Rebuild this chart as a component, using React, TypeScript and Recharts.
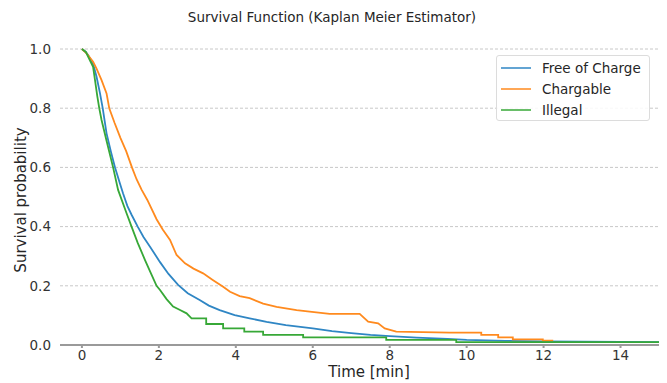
import React from "react";
import { LineChart, Line, XAxis, YAxis, CartesianGrid } from "recharts";

const FONT = "DejaVu Sans, Verdana, sans-serif";

// survival curves (time in min, survival probability)
const freeT = [0, 0.1, 0.16, 0.29, 0.38, 0.47, 0.54, 0.64, 0.75, 0.86, 0.99, 1.07, 1.18, 1.29, 1.45, 1.6, 1.77, 2.03, 2.25, 2.5, 2.75, 3.06, 3.3, 3.58, 3.97, 4.36, 4.8, 5.3, 6.0, 6.5, 7.0, 7.5, 8.0, 8.7, 9.5, 10.0, 11.0, 12.0, 13.0, 15.0];
const freeS = [1.0, 0.99, 0.98, 0.95, 0.906, 0.85, 0.8, 0.715, 0.655, 0.6, 0.545, 0.512, 0.47, 0.44, 0.4, 0.365, 0.332, 0.28, 0.24, 0.203, 0.175, 0.152, 0.133, 0.118, 0.101, 0.09, 0.078, 0.067, 0.056, 0.047, 0.04, 0.034, 0.03, 0.025, 0.021, 0.017, 0.014, 0.012, 0.011, 0.01];

const chargT = [0, 0.12, 0.29, 0.38, 0.51, 0.64, 0.71, 0.85, 1.0, 1.15, 1.3, 1.42, 1.55, 1.7, 1.94, 2.1, 2.29, 2.46, 2.68, 2.9, 3.15, 3.4, 3.67, 3.85, 4.1, 4.36, 4.71, 5.06, 5.58, 5.92, 6.44, 7.22, 7.44, 7.7, 7.87, 8.17, 9.56, 10.38, 10.38, 10.82, 10.82, 11.2, 11.2, 11.98, 11.98, 12.25];
const chargS = [1.0, 0.985, 0.957, 0.934, 0.895, 0.85, 0.8, 0.75, 0.7, 0.655, 0.6, 0.56, 0.525, 0.49, 0.425, 0.39, 0.355, 0.304, 0.276, 0.258, 0.242, 0.22, 0.197, 0.18, 0.165, 0.158, 0.14, 0.129, 0.118, 0.113, 0.105, 0.105, 0.079, 0.073, 0.056, 0.045, 0.042, 0.042, 0.034, 0.034, 0.026, 0.026, 0.019, 0.019, 0.015, 0.015];

const illegalT = [0, 0.1, 0.29, 0.34, 0.4, 0.45, 0.51, 0.64, 0.81, 0.94, 1.16, 1.29, 1.45, 1.64, 1.8, 1.94, 2.03, 2.2, 2.37, 2.55, 2.72, 2.85, 3.23, 3.23, 3.67, 3.67, 4.22, 4.22, 4.71, 4.71, 5.75, 5.75, 7.91, 7.91, 9.73, 9.73, 15.0];
const illegalS = [1.0, 0.99, 0.94, 0.895, 0.84, 0.8, 0.76, 0.69, 0.6, 0.524, 0.445, 0.4, 0.345, 0.287, 0.24, 0.2, 0.186, 0.155, 0.13, 0.118, 0.107, 0.09, 0.09, 0.071, 0.071, 0.056, 0.056, 0.045, 0.045, 0.034, 0.034, 0.026, 0.026, 0.017, 0.017, 0.01, 0.01];

const xTicks = [0, 2, 4, 6, 8, 10, 12, 14];
const yTicks = [0, 0.2, 0.4, 0.6, 0.8, 1.0];

const series = [
  { name: "Free of Charge", color: "#2f86c4", t: freeT, s: freeS },
  { name: "Chargable", color: "#ff8a1e", t: chargT, s: chargS },
  { name: "Illegal", color: "#37a837", t: illegalT, s: illegalS },
];

const toRows = (t: number[], s: number[]) => t.map((x, i) => ({ t: x, s: s[i] }));

export default function App() {
  return (
    <div style={{ position: "absolute", left: 0, top: 0, width: 667, height: 383, background: "#fff", fontFamily: FONT }}>
      <LineChart width={667} height={383} margin={{ top: 49, right: 8, bottom: 0, left: 0 }}>
        <CartesianGrid horizontal vertical={false} stroke="#c8c8c8" strokeDasharray="3 2" />
        <XAxis
          dataKey="t"
          type="number"
          domain={[-0.57, 15]}
          ticks={xTicks}
          allowDataOverflow
          height={38}
          stroke="#9a9a9a"
          strokeWidth={2}
          tickSize={3}
          tickMargin={2}
          tick={{ fill: "#333", fontSize: 13.5, fontFamily: FONT }}
        />
        <YAxis
          type="number"
          domain={[0, 1]}
          ticks={yTicks}
          width={60}
          axisLine={false}
          tickLine={false}
          tickMargin={3}
          tickFormatter={(v: number) => v.toFixed(1)}
          tick={{ fill: "#333", fontSize: 13.5, fontFamily: FONT }}
        />
        {series.map((d) => (
          <Line
            key={d.name}
            data={toRows(d.t, d.s)}
            dataKey="s"
            type="linear"
            stroke={d.color}
            strokeWidth={1.8}
            dot={false}
            isAnimationActive={false}
          />
        ))}
      </LineChart>

      <div style={{ position: "absolute", left: 0, width: 664, top: 9, textAlign: "center", fontSize: 13.5, color: "#262626" }}>
        Survival Function (Kaplan Meier Estimator)
      </div>
      <div
        style={{
          position: "absolute",
          left: 369,
          top: 372,
          transform: "translate(-50%, -50%)",
          whiteSpace: "nowrap",
          fontSize: 15,
          color: "#262626",
        }}
      >
        Time [min]
      </div>
      <div
        style={{
          position: "absolute",
          left: 21,
          top: 200,
          transform: "translate(-50%, -50%) rotate(-90deg)",
          whiteSpace: "nowrap",
          fontSize: 15,
          color: "#262626",
        }}
      >
        Survival probability
      </div>

      <div
        style={{
          position: "absolute",
          left: 496,
          top: 55,
          width: 154,
          height: 66,
          border: "1px solid #dcdcdc",
          borderRadius: 3,
          background: "rgba(255,255,255,0.85)",
          boxSizing: "border-box",
        }}
      >
        {series.map((d, i) => (
          <div key={d.name} style={{ position: "absolute", left: 4, top: 4 + i * 21, height: 16, display: "flex", alignItems: "center" }}>
            <div style={{ width: 30, height: 2, background: d.color, opacity: 0.75 }} />
            <span style={{ marginLeft: 11, fontSize: 13.5, color: "#262626" }}>{d.name}</span>
          </div>
        ))}
      </div>
    </div>
  );
}
